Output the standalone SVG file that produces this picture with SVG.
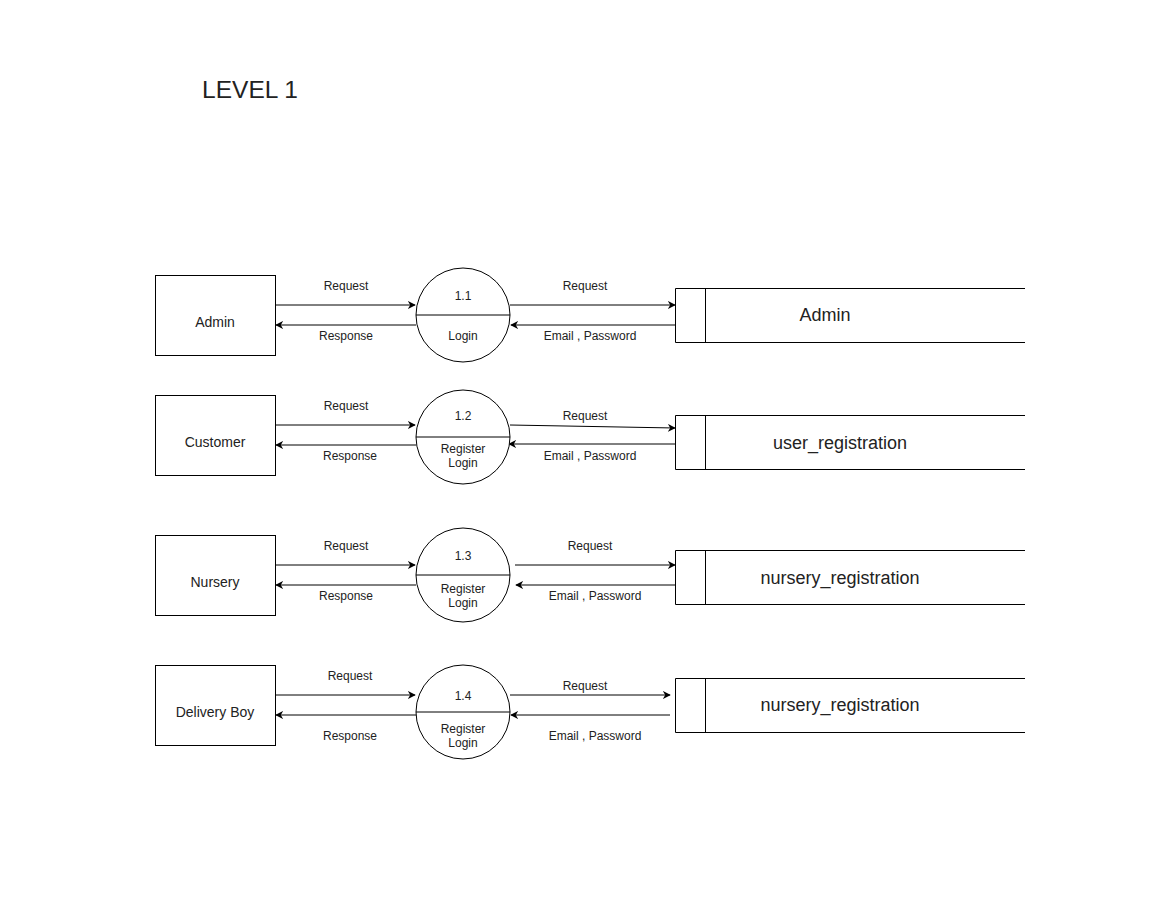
<svg xmlns="http://www.w3.org/2000/svg" width="1169" height="913" viewBox="0 0 1169 913">
<defs>
<marker id="ah" viewBox="0 0 10 10" refX="9" refY="5" markerWidth="8" markerHeight="8" markerUnits="userSpaceOnUse" orient="auto">
<path d="M0,0 L10,5 L0,10 L3,5 Z" fill="#000"/>
</marker>
<style>
.box{fill:#fff;stroke:#000;stroke-width:1}
.st{fill:none;stroke:#000;stroke-width:1}
.ln{fill:none;stroke:#000;stroke-width:1;marker-end:url(#ah)}
text{font-family:"Liberation Sans",Arial,sans-serif;fill:#222;text-anchor:middle;dominant-baseline:central}
.s{font-size:12px}
.m{font-size:14px}
.l{font-size:18px}
</style>
</defs>
<rect width="1169" height="913" fill="#fff"/>
<text x="250" y="89" style="font-size:24.5px">LEVEL 1</text>

<g id="connectors">
<line class="ln" x1="275" y1="305" x2="415" y2="305"/>
<line class="ln" x1="416" y1="325" x2="276" y2="325"/>
<line class="ln" x1="510" y1="305" x2="675" y2="305"/>
<line class="ln" x1="675" y1="325" x2="511" y2="325"/>

<line class="ln" x1="275" y1="425" x2="415" y2="425"/>
<line class="ln" x1="416" y1="445" x2="276" y2="445"/>
<line class="ln" x1="510" y1="425" x2="675" y2="428"/>
<line class="ln" x1="675" y1="444" x2="509" y2="444"/>

<line class="ln" x1="275" y1="565" x2="415" y2="565"/>
<line class="ln" x1="416" y1="585" x2="276" y2="585"/>
<line class="ln" x1="515" y1="565" x2="675" y2="565"/>
<line class="ln" x1="675" y1="585" x2="516" y2="585"/>

<line class="ln" x1="275" y1="695" x2="415" y2="695"/>
<line class="ln" x1="416" y1="715" x2="276" y2="715"/>
<line class="ln" x1="510" y1="695" x2="670" y2="695"/>
<line class="ln" x1="670" y1="715" x2="511" y2="715"/>

<text class="s" x="346" y="286">Request</text>
<text class="s" x="346" y="336">Response</text>
<text class="s" x="585" y="286">Request</text>
<text class="s" x="590" y="336">Email , Password</text>

<text class="s" x="346" y="406">Request</text>
<text class="s" x="350" y="456">Response</text>
<text class="s" x="585" y="416">Request</text>
<text class="s" x="590" y="456">Email , Password</text>

<text class="s" x="346" y="546">Request</text>
<text class="s" x="346" y="596">Response</text>
<text class="s" x="590" y="546">Request</text>
<text class="s" x="595" y="596">Email , Password</text>

<text class="s" x="350" y="676">Request</text>
<text class="s" x="350" y="736">Response</text>
<text class="s" x="585" y="686">Request</text>
<text class="s" x="595" y="736">Email , Password</text>
</g>

<g id="ent-admin"><rect class="box" x="155.5" y="275.5" width="120" height="80"/><text class="m" x="215" y="322">Admin</text></g>
<g id="ent-customer"><rect class="box" x="155.5" y="395.5" width="120" height="80"/><text class="m" x="215" y="442">Customer</text></g>
<g id="ent-nursery"><rect class="box" x="155.5" y="535.5" width="120" height="80"/><text class="m" x="215" y="582">Nursery</text></g>
<g id="ent-delivery"><rect class="box" x="155.5" y="665.5" width="120" height="80"/><text class="m" x="215" y="712">Delivery Boy</text></g>

<g id="proc-1-1"><circle class="box" cx="463" cy="315" r="47"/><line class="st" x1="416" y1="315" x2="510" y2="315"/><text class="s" x="463" y="296">1.1</text><text class="s" x="463" y="336">Login</text></g>
<g id="proc-1-2"><circle class="box" cx="463" cy="437" r="47"/><line class="st" x1="416" y1="437" x2="510" y2="437"/><text class="s" x="463" y="416">1.2</text><text class="s" x="463" y="449">Register</text><text class="s" x="463" y="463">Login</text></g>
<g id="proc-1-3"><circle class="box" cx="463" cy="575" r="47"/><line class="st" x1="416" y1="575" x2="510" y2="575"/><text class="s" x="463" y="556">1.3</text><text class="s" x="463" y="589">Register</text><text class="s" x="463" y="603">Login</text></g>
<g id="proc-1-4"><circle class="box" cx="463" cy="712" r="47"/><line class="st" x1="416" y1="712" x2="510" y2="712"/><text class="s" x="463" y="696">1.4</text><text class="s" x="463" y="729">Register</text><text class="s" x="463" y="743">Login</text></g>

<g id="store-admin"><path class="st" d="M1025,288.5 H675.5 V342.5 H1025 M705.5,288.5 V342.5"/><text class="l" x="825" y="315">Admin</text></g>
<g id="store-user"><path class="st" d="M1025,415.5 H675.5 V469.5 H1025 M705.5,415.5 V469.5"/><text class="l" x="840" y="443">user_registration</text></g>
<g id="store-nursery"><path class="st" d="M1025,550.5 H675.5 V604.5 H1025 M705.5,550.5 V604.5"/><text class="l" x="840" y="578">nursery_registration</text></g>
<g id="store-nursery2"><path class="st" d="M1025,678.5 H675.5 V732.5 H1025 M705.5,678.5 V732.5"/><text class="l" x="840" y="705">nursery_registration</text></g>
</svg>
